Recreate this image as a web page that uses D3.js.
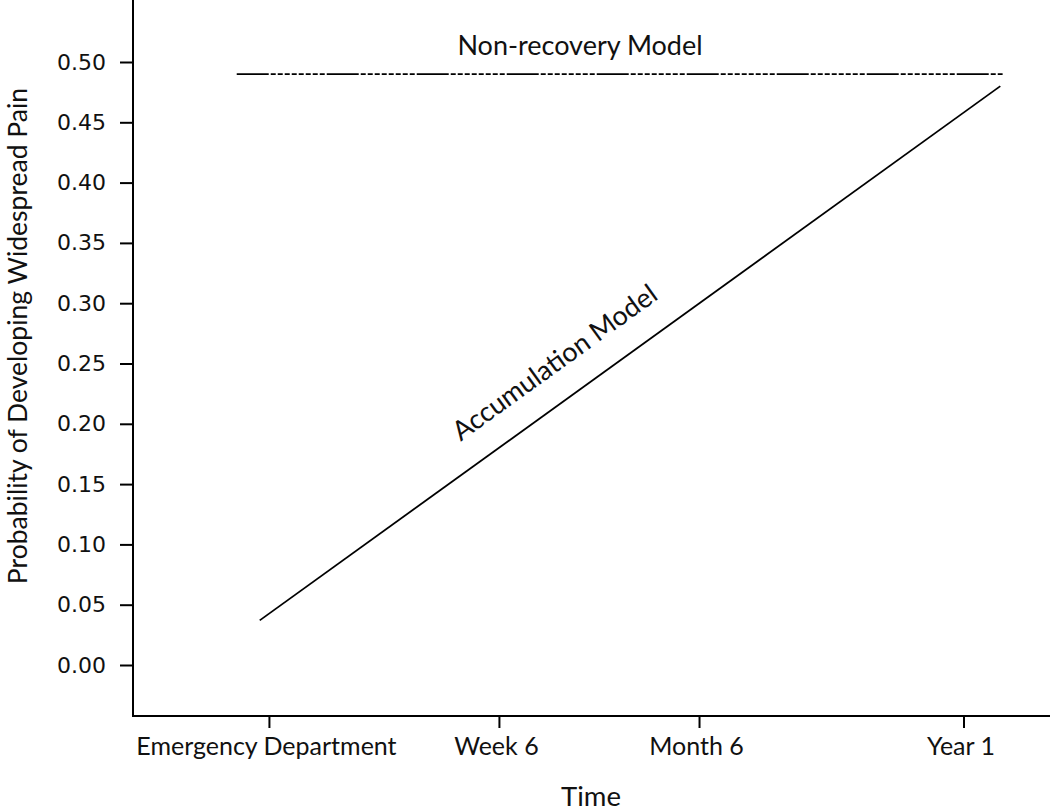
<!DOCTYPE html>
<html><head><meta charset="utf-8">
<script src="https://cdn.jsdelivr.net/npm/d3@7"></script>
<style>body{margin:0;background:#fff}svg{display:block}</style>
</head><body>
<svg id="c" width="1050" height="811"></svg>
<script>
// ---- data ----
const timeLabels = ["Emergency Department", "Week 6", "Month 6", "Year 1"];
const timePositions = [0, 1, 1.87, 3.02];          // relative positions on time axis
const yTicks = [0.00, 0.05, 0.10, 0.15, 0.20, 0.25, 0.30, 0.35, 0.40, 0.45, 0.50];
const nonRecoveryX = [-0.14, 3.19];
const nonRecoveryY = [0.49, 0.49];
const accumulationX = [-0.04, 3.18];
const accumulationY = [0.037, 0.48];

(function () {
const svg = d3.select("#c");
const mLeft = 133, mRight = 1050, mTop = 0, mBottom = 716;

const x = d3.scaleLinear().domain([-0.591, 3.396]).range([mLeft, mRight]);
const y = d3.scaleLinear().domain([0, 0.5]).range([665, 62]);

// y axis
const yAxis = d3.axisLeft(y).tickValues(yTicks).tickFormat(d3.format(".2f")).tickSize(13).tickPadding(14);
const gy = svg.append("g").attr("transform", `translate(${mLeft},0)`).call(yAxis);
gy.select(".domain").remove();
gy.selectAll(".tick line").attr("stroke", "#000").attr("stroke-width", 2);
gy.selectAll(".tick text").attr("font-family", "DejaVu Sans").attr("font-size", 22).attr("fill", "#111");
svg.append("line").attr("x1", mLeft).attr("x2", mLeft).attr("y1", mTop).attr("y2", mBottom + 1)
  .attr("stroke", "#000").attr("stroke-width", 2);

// x axis
const xAxis = d3.axisBottom(x).tickValues(timePositions).tickFormat((d, i) => timeLabels[i]).tickSize(12);
const gx = svg.append("g").attr("transform", `translate(0,${mBottom})`).call(xAxis);
gx.select(".domain").remove();
gx.selectAll(".tick line").attr("stroke", "#000").attr("stroke-width", 2);
gx.selectAll(".tick text").attr("font-family", "Lato").attr("font-size", 25).attr("fill", "#111")
  .attr("y", 39).attr("dy", 0).attr("dx", -3);
svg.append("line").attr("x1", mLeft - 1).attr("x2", mRight).attr("y1", mBottom).attr("y2", mBottom)
  .attr("stroke", "#000").attr("stroke-width", 2);

// lines
const line = d3.line().x(d => x(d[0])).y(d => y(d[1]));
svg.append("path").datum(nonRecoveryX.map((v, i) => [v, nonRecoveryY[i]]))
  .attr("d", line).attr("fill", "none").attr("stroke", "#000").attr("stroke-width", 1.8)
  .attr("stroke-dasharray", "32 2 5 2 5 2 5 2 5 2 5 2 5 2 5 2 5 2");
svg.append("path").datum(accumulationX.map((v, i) => [v, accumulationY[i]]))
  .attr("d", line).attr("fill", "none").attr("stroke", "#000").attr("stroke-width", 1.8);

// labels
svg.append("text").attr("x", 580).attr("y", 55).attr("text-anchor", "middle")
  .attr("font-family", "Lato").attr("font-size", 27).attr("fill", "#111").text("Non-recovery Model");

const ang = Math.atan2(y(accumulationY[1]) - y(accumulationY[0]), x(accumulationX[1]) - x(accumulationX[0])) * 180 / Math.PI;
svg.append("text").attr("transform", `translate(560,370) rotate(${ang})`).attr("text-anchor", "middle")
  .attr("font-family", "Lato").attr("font-size", 27).attr("fill", "#111").text("Accumulation Model");

svg.append("text").attr("x", 591).attr("y", 806).attr("text-anchor", "middle")
  .attr("font-family", "Lato").attr("font-size", 27.5).attr("fill", "#111").text("Time");

svg.append("text").attr("transform", "translate(27,336) rotate(-90)").attr("text-anchor", "middle")
  .attr("font-family", "Lato").attr("font-size", 26.5).attr("fill", "#111").text("Probability of Developing Widespread Pain");
})();
</script>
</body></html>
